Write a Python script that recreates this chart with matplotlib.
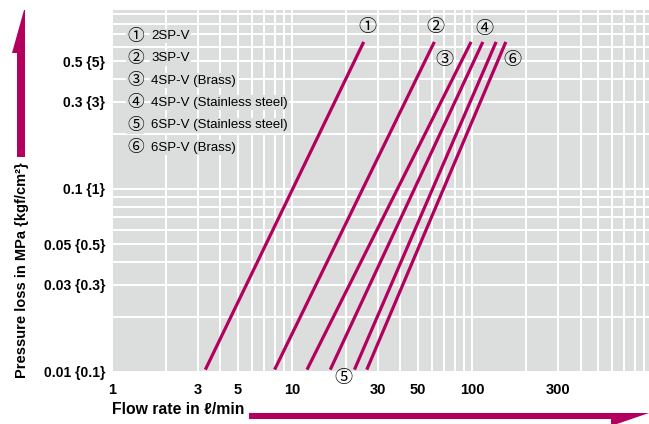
import matplotlib
matplotlib.use("Agg")
import matplotlib.pyplot as plt
from matplotlib.patches import Polygon

# ---- data ----
series_names = ["2SP-V", "3SP-V", "4SP-V (Brass)", "4SP-V (Stainless steel)",
                "6SP-V (Stainless steel)", "6SP-V (Brass)"]
series_marks = ["①", "②", "③", "④", "⑤", "⑥"]
flow_low = [3.3, 8.0, 12.1, 16.3, 22.2, 26.0]        # l/min at lower end
flow_high = [25.0, 61.7, 98.7, 114.7, 135.9, 153.9]   # l/min at upper end
dp_low = [0.0103, 0.0103, 0.0103, 0.0103, 0.0103, 0.0103]  # MPa
dp_high = [0.636, 0.636, 0.636, 0.636, 0.636, 0.636]       # MPa

x_ticks = [1, 3, 5, 10, 30, 50, 100, 300]
x_ticklabels = ["1", "3", "5", "10", "30", "50", "100", "300"]
y_ticks = [0.01, 0.03, 0.05, 0.1, 0.3, 0.5]
y_ticklabels = ["0.01 {0.1}", "0.03 {0.3}", "0.05 {0.5}", "0.1 {1}", "0.3 {3}", "0.5 {5}"]

# ---- style ----
FONT = ["Liberation Sans Narrow", "Liberation Sans", "DejaVu Sans"]
CJK = ["Noto Sans CJK JP", "DejaVu Sans"]
plt.rcParams["font.family"] = FONT
MAG = "#b3005e"
BG = "#dcdddd"
W, H = 649, 424

fig = plt.figure(figsize=(W / 100, H / 100), dpi=100)
ax = fig.add_axes([112 / W, 52 / H, 537 / W, 362 / H])
ax.set_xscale("log")
ax.set_yscale("log")
ax.set_xlim(1, 960)
ax.set_ylim(0.01, 0.95)
ax.set_facecolor(BG)
for s in ax.spines.values():
    s.set_visible(False)

xminor = [m * 10 ** e for e in range(0, 3) for m in range(1, 10)]
yminor = [m * 10 ** e for e in (-2, -1) for m in range(1, 10)]
ax.set_xticks(x_ticks)
ax.set_xticklabels(x_ticklabels)
ax.set_xticks(xminor, minor=True)
ax.set_yticks(y_ticks)
ax.set_yticklabels(y_ticklabels)
ax.set_yticks(yminor, minor=True)
ax.xaxis.set_minor_formatter(matplotlib.ticker.NullFormatter())
ax.yaxis.set_minor_formatter(matplotlib.ticker.NullFormatter())
ax.tick_params(which="both", length=0)
ax.tick_params(axis="x", pad=8, labelsize=10.5)
ax.tick_params(axis="y", pad=5, labelsize=10)
for lab in ax.get_xticklabels() + ax.get_yticklabels():
    lab.set_fontweight("bold")
ax.grid(which="both", color="white", linewidth=1.4)
ax.set_axisbelow(True)

for i in range(len(series_names)):
    ax.plot([flow_low[i], flow_high[i]], [dp_low[i], dp_high[i]],
            color=MAG, linewidth=2.3, solid_capstyle="butt", zorder=3)

# ---- overlay in pixel coordinates for annotations ----
ov = fig.add_axes([0, 0, 1, 1], facecolor="none")
ov.set_xlim(0, W)
ov.set_ylim(H, 0)
ov.axis("off")

# legend text block
for i, (mk, nm) in enumerate(zip(series_marks, series_names)):
    yy = 36 + i * 22.3
    ov.text(127, yy, mk, fontsize=12, ha="left", va="center", family=CJK,
            bbox=dict(facecolor=BG, edgecolor="none", pad=0.5))
    ov.text(151, yy, nm, fontsize=9.5, ha="left", va="center", family=FONT,
            bbox=dict(facecolor=BG, edgecolor="none", pad=1.0))

# curve labels
label_pos = [(367, 27), (435, 27), (444, 60), (484, 29), (343, 378), (512, 60)]
for mk, (px, py) in zip(series_marks, label_pos):
    ov.text(px, py, mk, fontsize=13, ha="center", va="center", family=CJK)

# axis titles
fig.text(22 / W, 1 - 378 / H, "Pressure loss in MPa {kgf/cm²}", rotation=90,
         ha="center", va="bottom", fontsize=10.5, fontweight="bold")
ov.text(112, 410, "Flow rate in ℓ/min", ha="left", va="center", fontsize=11.3,
        fontweight="bold")

# arrows
ov.add_patch(Polygon([(17, 157), (17, 53), (12, 53), (24, 10), (25, 10), (25, 157)],
                     closed=True, facecolor=MAG, edgecolor="none"))
ov.add_patch(Polygon([(249, 413), (649, 413), (611, 426), (611, 419), (249, 419)],
                     closed=True, facecolor=MAG, edgecolor="none"))

fig.savefig("out.png", dpi=100)
